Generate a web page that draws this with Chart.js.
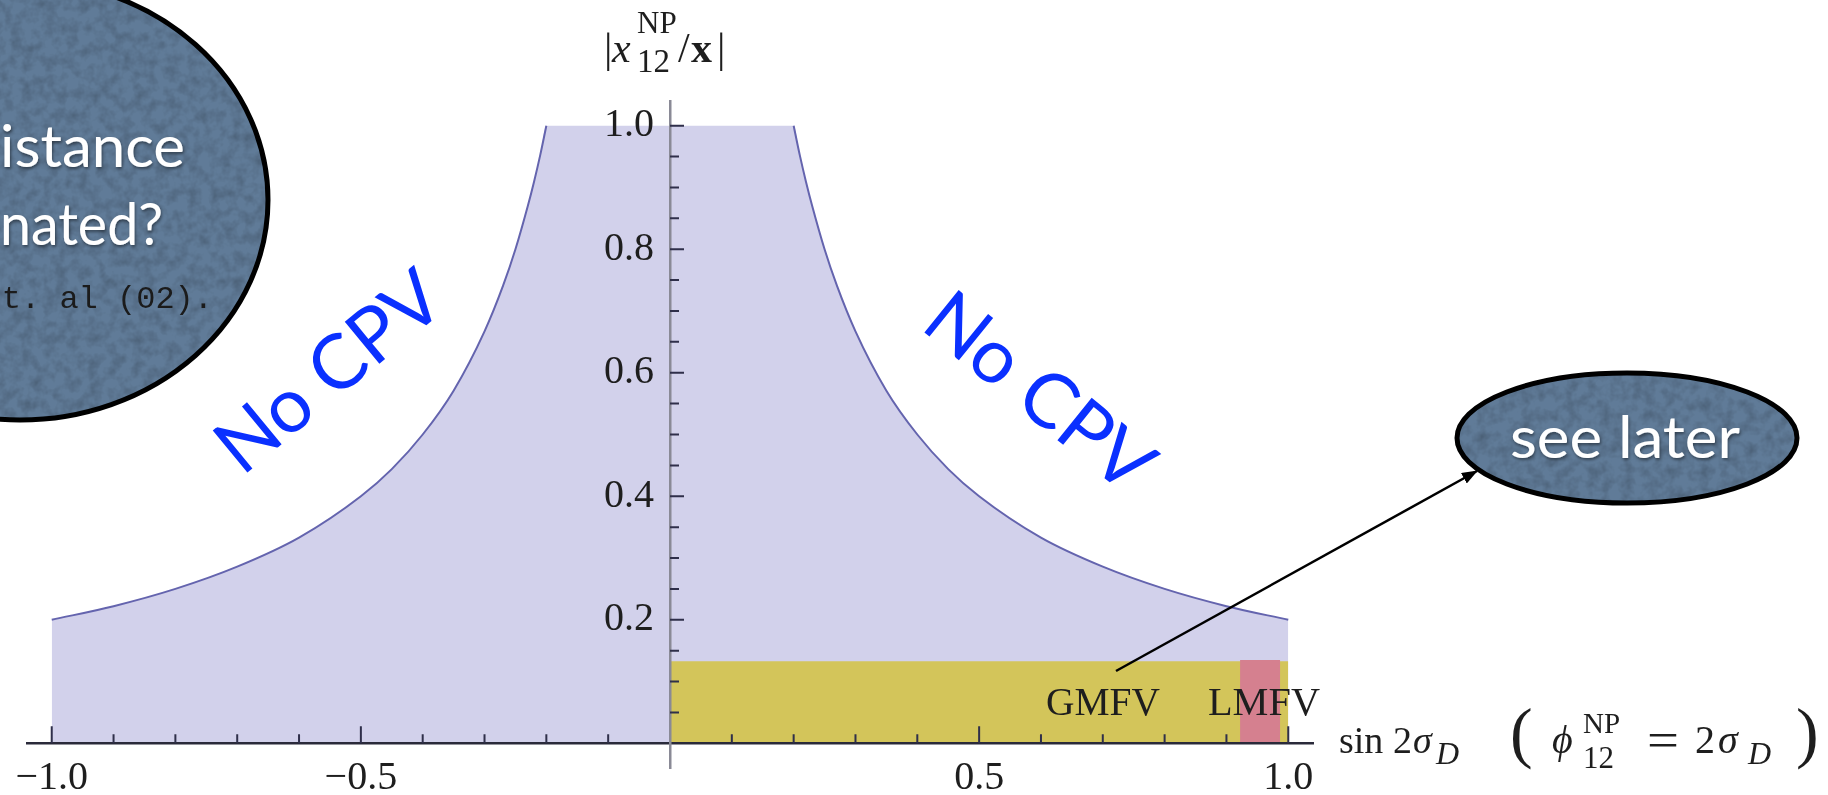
<!DOCTYPE html>
<html lang="en">
<head>
    <meta charset="UTF-8" />
    <title>|x12NP/x| versus sin 2σD</title>
    <style>
        html, body {
            margin: 0;
            padding: 0;
            background: #fff;
            overflow: hidden;
        }
        .wrap {
            position: relative;
            width: 1828px;
            height: 795px;
        }
        #chart, #notes {
            position: absolute;
            left: 0;
            top: 0;
        }
        #notes {
            pointer-events: none;
        }
        .serif { font-family: 'Liberation Serif', 'Times New Roman', serif; fill: #1e1e1e; }
        .gill { font-family: Lato, 'Open Sans', sans-serif; }
        .mono { font-family: 'Liberation Mono', 'DejaVu Sans Mono', monospace; }
    </style>
</head>
<body>
    <div class="wrap">
        <canvas id="chart" width="1828" height="795"></canvas>

        <svg id="notes" width="1828" height="795" viewBox="0 0 1828 795">
            <defs>
                <filter id="shadow" x="-10%" y="-10%" width="130%" height="140%">
                    <feDropShadow dx="1" dy="2" stdDeviation="1.5" flood-color="#000" flood-opacity="0.45" />
                </filter>
                <!-- light paper-like mottling on the bubbles -->
                <filter id="grain" x="0" y="0" width="100%" height="100%">
                    <feTurbulence type="fractalNoise" baseFrequency="0.09" numOctaves="3" seed="7" result="n" />
                    <feColorMatrix in="n" type="matrix" values="0 0 0 0 0  0 0 0 0 0  0 0 0 0 0  0 0 0 -0.35 0.22" result="dark" />
                    <feComposite in="dark" in2="SourceGraphic" operator="in" />
                </filter>
                <marker id="head" markerWidth="16" markerHeight="12" refX="15" refY="6" orient="auto" markerUnits="userSpaceOnUse">
                    <path d="M0,0 L16,6 L0,12 z" fill="#000" />
                </marker>
            </defs>

            <!-- bubble top left -->
            <ellipse cx="20" cy="200" rx="248" ry="220" fill="#607b98" />
            <ellipse cx="20" cy="200" rx="248" ry="220" fill="#000" filter="url(#grain)" />
            <ellipse cx="20" cy="200" rx="248" ry="220" fill="none" stroke="#000" stroke-width="5" />
            <text class="gill" x="0" y="167" font-size="58" fill="#fff" textLength="185" lengthAdjust="spacingAndGlyphs" filter="url(#shadow)">istance</text>
            <text class="gill" x="0" y="245" font-size="58" fill="#fff" textLength="163" lengthAdjust="spacingAndGlyphs" filter="url(#shadow)">nated?</text>
            <text class="mono" x="213" y="308" font-size="32" fill="#1b1b1b" text-anchor="end">et. al (02).</text>

            <!-- No CPV labels -->
            <text class="gill" x="242" y="477" font-size="76" fill="#0a30ff" textLength="268" lengthAdjust="spacingAndGlyphs" transform="rotate(-39.5 242 477)">No CPV</text>
            <text class="gill" x="919" y="328" font-size="76" fill="#0a30ff" textLength="268" lengthAdjust="spacingAndGlyphs" transform="rotate(39 919 328)">No CPV</text>

            <!-- see later -->
            <line x1="1116" y1="671" x2="1477" y2="471" stroke="#000" stroke-width="2.5" marker-end="url(#head)" />
            <ellipse cx="1627" cy="438" rx="170" ry="65" fill="#607b98" />
            <ellipse cx="1627" cy="438" rx="170" ry="65" fill="#000" filter="url(#grain)" />
            <ellipse cx="1627" cy="438" rx="170" ry="65" fill="none" stroke="#000" stroke-width="5" />
            <text class="gill" x="1625" y="458" font-size="58" fill="#fff" text-anchor="middle" textLength="230" lengthAdjust="spacingAndGlyphs" filter="url(#shadow)">see later</text>

            <!-- region labels -->
            <text class="serif" x="1046" y="715" font-size="40" fill="#24241a" textLength="114" lengthAdjust="spacingAndGlyphs">GMFV</text>
            <text class="serif" x="1208" y="715" font-size="40" fill="#24241a" textLength="112" lengthAdjust="spacingAndGlyphs">LMFV</text>

            <!-- y axis title -->
            <text class="serif" x="604" y="62" font-size="42">|</text>
            <text class="serif" x="612" y="62" font-size="42" font-style="italic">x</text>
            <text class="serif" x="637" y="33" font-size="31">NP</text>
            <text class="serif" x="637" y="72" font-size="33">12</text>
            <text class="serif" x="678" y="62" font-size="42">/</text>
            <text class="serif" x="691" y="62" font-size="42" font-weight="bold">x</text>
            <text class="serif" x="717" y="62" font-size="42">|</text>

            <!-- x axis title -->
            <text class="serif" x="1339" y="753" font-size="38">sin</text>
            <text class="serif" x="1393" y="753" font-size="38">2</text>
            <text class="serif" x="1413" y="753" font-size="38" font-style="italic">σ</text>
            <text class="serif" x="1436" y="764" font-size="32" font-style="italic">D</text>
            <text class="serif" x="1510" y="755" font-size="68">(</text>
            <text class="serif" x="1552" y="753" font-size="40" font-style="italic">ϕ</text>
            <text class="serif" x="1583" y="733" font-size="29">NP</text>
            <text class="serif" x="1583" y="768" font-size="31">12</text>
            <text class="serif" x="1647" y="757" font-size="50" textLength="32" lengthAdjust="spacingAndGlyphs">=</text>
            <text class="serif" x="1695" y="753" font-size="40">2</text>
            <text class="serif" x="1718" y="753" font-size="40" font-style="italic">σ</text>
            <text class="serif" x="1748" y="764" font-size="32" font-style="italic">D</text>
            <text class="serif" x="1796" y="755" font-size="68">)</text>
        </svg>
    </div>

    <script src="https://cdn.jsdelivr.net/npm/chart.js"></script>
    <script>
        // boundary of the allowed region |x12NP/x|, capped at 1
        const boundX = [-1.0, -0.9, -0.8, -0.7, -0.6, -0.5, -0.45, -0.4, -0.35, -0.3, -0.27, -0.25, -0.23, -0.22, -0.21, -0.2,
                        0.2, 0.21, 0.22, 0.23, 0.25, 0.27, 0.3, 0.35, 0.4, 0.45, 0.5, 0.6, 0.7, 0.8, 0.9, 1.0];
        const boundY = [0.2, 0.222, 0.25, 0.286, 0.333, 0.4, 0.444, 0.5, 0.571, 0.667, 0.741, 0.8, 0.87, 0.909, 0.952, 1.0,
                        1.0, 0.952, 0.909, 0.87, 0.8, 0.741, 0.667, 0.571, 0.5, 0.444, 0.4, 0.333, 0.286, 0.25, 0.222, 0.2];

        // GMFV band and LMFV band
        const gmfvX = [0, 1.0];
        const gmfvY = [0.133, 0.133];
        const lmfvX = [0.922, 0.987];
        const lmfvY = [0.135, 0.135];

        // ticks
        const xTickValues = [-1, -0.5, 0.5, 1];
        const xTickLabels = ['\u22121.0', '\u22120.5', '0.5', '1.0'];
        const xMinorTicks = [-0.9, -0.8, -0.7, -0.6, -0.4, -0.3, -0.2, -0.1, 0.1, 0.2, 0.3, 0.4, 0.6, 0.7, 0.8, 0.9];
        const yTickValues = [0.2, 0.4, 0.6, 0.8, 1.0];
        const yTickLabels = ['0.2', '0.4', '0.6', '0.8', '1.0'];
        const yMinorTicks = [0.05, 0.1, 0.15, 0.25, 0.3, 0.35, 0.45, 0.5, 0.55, 0.65, 0.7, 0.75, 0.85, 0.9, 0.95];

        const toPoints = (xs, ys) => xs.map((x, i) => ({ x: x, y: ys[i] }));
        const half = boundX.findIndex(x => x > 0);

        const curveColor = '#6464ae';
        const tickColor = '#2f2f4a';

        // short inward tick marks, like the Mathematica frame
        const tickMarks = {
            id: 'tickMarks',
            afterDraw(chart) {
                const ctx = chart.ctx;
                const xs = chart.scales.x;
                const ys = chart.scales.y;
                const y0 = ys.getPixelForValue(0);
                const x0 = xs.getPixelForValue(0);
                ctx.save();
                ctx.strokeStyle = tickColor;
                ctx.lineWidth = 2;
                ctx.beginPath();
                xTickValues.forEach(v => {
                    const px = xs.getPixelForValue(v);
                    ctx.moveTo(px, y0); ctx.lineTo(px, y0 - 17);
                });
                xMinorTicks.forEach(v => {
                    const px = xs.getPixelForValue(v);
                    ctx.moveTo(px, y0); ctx.lineTo(px, y0 - 9);
                });
                yTickValues.forEach(v => {
                    const py = ys.getPixelForValue(v);
                    ctx.moveTo(x0, py); ctx.lineTo(x0 + 14, py);
                });
                yMinorTicks.forEach(v => {
                    const py = ys.getPixelForValue(v);
                    ctx.moveTo(x0, py); ctx.lineTo(x0 + 9, py);
                });
                ctx.stroke();
                ctx.restore();
            }
        };

        Chart.defaults.font.family = "'Liberation Serif', 'Times New Roman', serif";
        Chart.defaults.color = '#1e1e1e';

        const curveLine = {
            borderColor: curveColor,
            borderWidth: 2,
            pointRadius: 0,
            cubicInterpolationMode: 'monotone',
            fill: false,
            order: 3
        };

        new Chart(document.getElementById('chart'), {
            type: 'line',
            data: {
                datasets: [
                    {
                        label: 'LMFV',
                        data: toPoints(lmfvX, lmfvY),
                        borderWidth: 0,
                        pointRadius: 0,
                        backgroundColor: '#d5808f',
                        fill: 'origin',
                        order: 1
                    },
                    {
                        label: 'GMFV',
                        data: toPoints(gmfvX, gmfvY),
                        borderWidth: 0,
                        pointRadius: 0,
                        backgroundColor: '#d3c55a',
                        fill: 'origin',
                        order: 2
                    },
                    Object.assign({ label: 'bound left', data: toPoints(boundX.slice(0, half), boundY.slice(0, half)) }, curveLine),
                    Object.assign({ label: 'bound right', data: toPoints(boundX.slice(half), boundY.slice(half)) }, curveLine),
                    {
                        label: 'allowed',
                        data: toPoints(boundX, boundY),
                        borderWidth: 0,
                        pointRadius: 0,
                        cubicInterpolationMode: 'monotone',
                        backgroundColor: '#d2d1eb',
                        fill: 'origin',
                        order: 4
                    }
                ]
            },
            options: {
                responsive: false,
                animation: false,
                layout: { padding: { left: 27, right: 515, top: 101, bottom: 27 } },
                plugins: {
                    legend: { display: false },
                    tooltip: { enabled: false }
                },
                scales: {
                    x: {
                        type: 'linear',
                        min: -1.04,
                        max: 1.04,
                        position: { y: 0 },
                        grid: { display: false, drawTicks: false },
                        border: { display: true, color: '#2a2a3a', width: 2.5, z: 1 },
                        afterBuildTicks: s => { s.ticks = xTickValues.map(v => ({ value: v })); },
                        afterFit: s => { s.height = 0; },
                        ticks: {
                            z: 1,
                            autoSkip: false,
                            maxRotation: 0,
                            padding: 11,
                            font: { size: 40 },
                            callback: (v, i) => xTickLabels[i]
                        }
                    },
                    y: {
                        type: 'linear',
                        min: -0.04,
                        max: 1.04,
                        position: { x: 0 },
                        grid: { display: false, drawTicks: false },
                        border: { display: true, color: '#8a8a96', width: 2.5, z: 1 },
                        afterBuildTicks: s => { s.ticks = yTickValues.map(v => ({ value: v })); },
                        afterFit: s => { s.width = 0; },
                        ticks: {
                            z: 1,
                            autoSkip: false,
                            font: { size: 40 },
                            callback: (v, i) => yTickLabels[i] + '\u2009\u2009'
                        }
                    }
                }
            },
            plugins: [tickMarks]
        });
    </script>
</body>
</html>
